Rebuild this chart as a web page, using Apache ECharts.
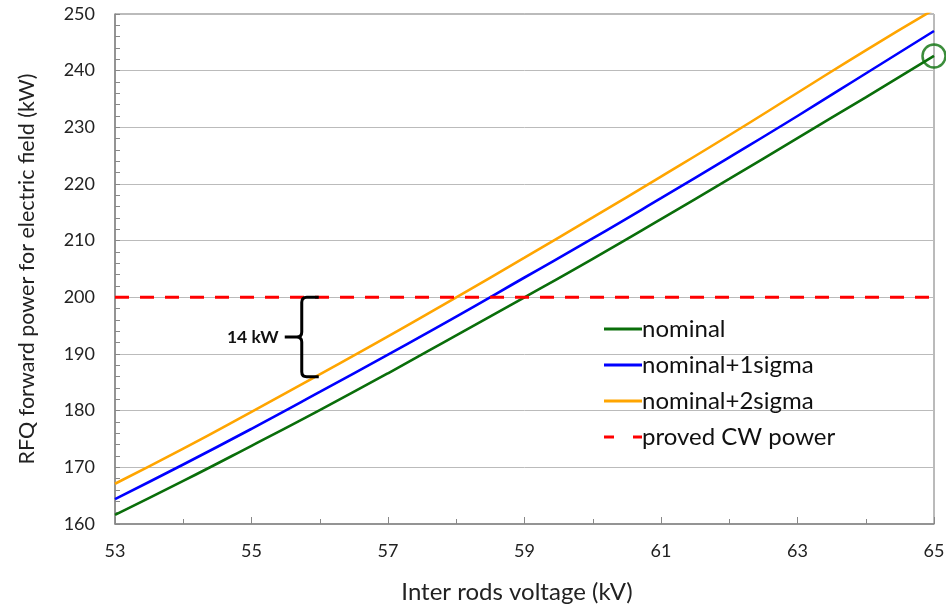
<!DOCTYPE html>
<html><head><meta charset="utf-8">
<script src="https://cdn.jsdelivr.net/npm/echarts@6/dist/echarts.min.js"></script>
<style>html,body{margin:0;padding:0;background:#fff}#c{width:946px;height:605px}</style>
</head><body><div id="c"></div>
<script>
const voltages = [53,54,55,56,57,58,59,60,61,62,63,64,65];
const nominal = [161.6,167.6,173.8,180.1,186.6,193.3,200.0,206.8,213.8,220.9,228.1,235.3,242.6];
const sigma1 = [164.4,170.5,176.8,183.3,189.9,196.6,203.5,210.4,217.5,224.7,232.0,239.5,247.0];
const sigma2 = [167.1,173.3,179.8,186.4,193.1,200.0,207.0,214.1,221.3,228.6,236.1,243.6,250.8];
const cwPower = 200;
const circlePoint = [65, 242.6];
const braceRange = [56, 200, 186];
const braceLabel = '14 kW';
const xTitle = 'Inter rods voltage (kV)';
const yTitle = 'RFQ forward power for electric field (kW)';
const legendNames = ['nominal','nominal+1sigma','nominal+2sigma','proved CW power'];

const FONT = 'Lato';
const chart = echarts.init(document.getElementById('c'));
const pair = arr => voltages.map((v,i)=>[v,arr[i]]);
const solidIcon = 'path://M0,0h38v3h-38z';
const dashIcon = 'path://M0,0h10v3h-10zM29,0h9v3h-9z';
chart.setOption({
  animation:false,
  grid:{left:115,top:14,right:12,bottom:81,show:true,borderColor:'#777',borderWidth:1,
    containLabel:false,outerBoundsMode:'none'},
  xAxis:{type:'value',min:53,max:65,interval:2,
    name:xTitle,nameLocation:'middle',nameGap:56,
    nameTextStyle:{fontFamily:FONT,fontSize:24,color:'#222',padding:[0,15,0,0]},
    axisLine:{lineStyle:{color:'#888',width:1.5}},
    axisTick:{inside:true,length:7,lineStyle:{color:'#888'}},
    minorTick:{show:true,splitNumber:2,length:5,lineStyle:{color:'#888'}},
    axisLabel:{margin:18,fontFamily:FONT,fontSize:18,color:'#222'},
    splitLine:{show:false}},
  yAxis:{type:'value',min:160,max:250,interval:10,
    name:yTitle,nameLocation:'middle',nameGap:77,
    nameTextStyle:{fontFamily:FONT,fontSize:21.5,color:'#222'},
    axisLine:{show:true,lineStyle:{color:'#888',width:1.5}},
    axisTick:{show:true,inside:true,length:5,lineStyle:{color:'#888'}},
    minorTick:{show:true,splitNumber:5,length:5,lineStyle:{color:'#888'}},
    axisLabel:{margin:20,fontFamily:FONT,fontSize:18,color:'#222'},
    splitLine:{show:true,lineStyle:{color:'#bbb',width:1}}},
  legend:{orient:'vertical',left:599,top:312,itemWidth:38,itemHeight:3,itemGap:12,
    data:[
      {name:legendNames[0],icon:solidIcon},
      {name:legendNames[1],icon:solidIcon},
      {name:legendNames[2],icon:solidIcon},
      {name:legendNames[3],icon:dashIcon}],
    textStyle:{fontFamily:FONT,fontSize:24,color:'#111',padding:[0,0,0,-5]}},
  series:[
    {name:legendNames[0],type:'line',data:pair(nominal),showSymbol:false,symbol:'none',smooth:true,
      lineStyle:{color:'#0a6e0a',width:2.6},itemStyle:{color:'#0a6e0a'},z:3},
    {name:legendNames[1],type:'line',data:pair(sigma1),showSymbol:false,symbol:'none',smooth:true,
      lineStyle:{color:'#0000ff',width:2.6},itemStyle:{color:'#0000ff'},z:3},
    {name:legendNames[2],type:'line',data:pair(sigma2),showSymbol:false,symbol:'none',smooth:true,
      lineStyle:{color:'#ffa500',width:2.6},itemStyle:{color:'#ffa500'},z:3},
    {name:legendNames[3],type:'line',data:[[voltages[0],cwPower],[voltages[voltages.length-1],cwPower]],
      showSymbol:false,symbol:'none',
      lineStyle:{color:'#ff0000',width:3,type:[14,11]},itemStyle:{color:'#ff0000'},z:4},
    {name:'marker',type:'scatter',data:[circlePoint],symbol:'circle',symbolSize:23,clip:false,
      itemStyle:{color:'rgba(0,0,0,0)',borderColor:'#0a700a',borderWidth:2.5},z:5,silent:true},
    {name:'brace',type:'custom',data:[braceRange],clip:false,silent:true,z:6,
      renderItem:function(params,api){
        const top = api.coord([api.value(0),api.value(1)]);
        const bot = api.coord([api.value(0),api.value(2)]);
        const xr = top[0] - 1;
        const xv = xr - 17;
        const mid = (top[1]+bot[1])/2;
        const r = 5;
        const path = `M${xr} ${top[1]} L${xv+r} ${top[1]} Q${xv} ${top[1]} ${xv} ${top[1]+r} L${xv} ${mid-r} Q${xv} ${mid} ${xv-5} ${mid} L${xv-17} ${mid} M${xv-5} ${mid} Q${xv} ${mid} ${xv} ${mid+r} L${xv} ${bot[1]-r} Q${xv} ${bot[1]} ${xv+r} ${bot[1]} L${xr} ${bot[1]}`;
        return {type:'group',children:[
          {type:'path',shape:{pathData:path},style:{stroke:'#000',lineWidth:3,fill:null}},
          {type:'text',style:{text:braceLabel,x:xv-23,y:mid,align:'right',verticalAlign:'middle',
            font:'bold 17.5px '+FONT,fill:'#111'}}
        ]};
      }}
  ]
});
</script></body></html>
